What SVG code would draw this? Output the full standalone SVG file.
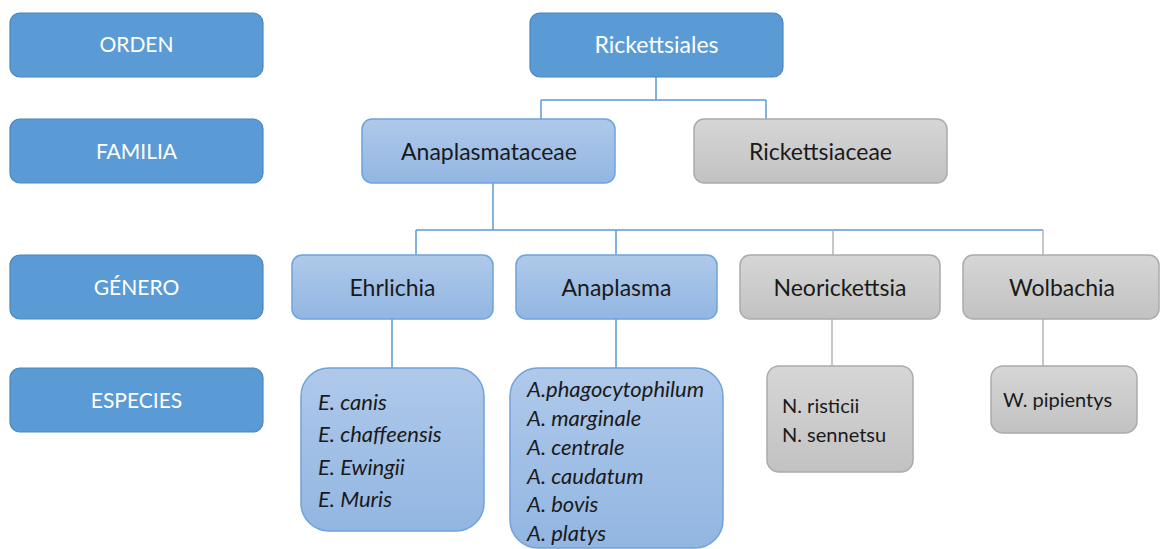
<svg xmlns="http://www.w3.org/2000/svg" width="1160" height="549" viewBox="0 0 1160 549">
<defs>
<linearGradient id="gBlue" x1="0" y1="0" x2="0" y2="1">
<stop offset="0" stop-color="#AFC9EA"/>
<stop offset="1" stop-color="#92B6E2"/>
</linearGradient>
<linearGradient id="gGray" x1="0" y1="0" x2="0" y2="1">
<stop offset="0" stop-color="#D6D6D6"/>
<stop offset="1" stop-color="#C2C2C2"/>
</linearGradient>
<style>
.dark{fill:#5B9BD5;stroke:#4D85BC;stroke-width:1.2}
.light{fill:url(#gBlue);stroke:#6FA3DA;stroke-width:1.5}
.gray{fill:url(#gGray);stroke:#ABABAB;stroke-width:1.5}
.wt{font-family:Lato,"Liberation Sans",sans-serif;font-size:21px;fill:#FFFFFF;text-anchor:middle}
.bt{font-family:Lato,"Liberation Sans",sans-serif;font-size:23px;fill:#1A1A1A;text-anchor:middle}
.it{font-family:Lato,"Liberation Sans",sans-serif;font-size:22px;font-style:italic;fill:#1A1A1A}
.sm{font-family:Lato,"Liberation Sans",sans-serif;font-size:20px;fill:#1A1A1A}
.cb{fill:none;stroke:#5B9BD5;stroke-width:1.5}
.cg{fill:none;stroke:#B5B5B5;stroke-width:1.5}
</style>
</defs>
<g id="connectors">
<path class="cb" d="M656 77 V100 M541 100 H766 M541 100 V120 M766 100 V120"/>
<path class="cb" d="M493 183 V230 M416 230 H1043 M416 230 V256 M616 230 V256"/>
<path class="cg" d="M833 230 V256 M1043 230 V256"/>
<path class="cb" d="M392 319 V368 M616 319 V368"/>
<path class="cg" d="M832 319 V367 M1043 319 V367"/>
</g>
<g id="orden"><rect class="dark" x="10" y="13" width="253" height="64" rx="10"/><text class="wt" x="136.5" y="52">ORDEN</text></g>
<g id="familia"><rect class="dark" x="10" y="119" width="253" height="64" rx="10"/><text class="wt" x="136.5" y="159">FAMILIA</text></g>
<g id="genero"><rect class="dark" x="10" y="255" width="253" height="64" rx="10"/><text class="wt" x="136.5" y="295">GÉNERO</text></g>
<g id="especies"><rect class="dark" x="10" y="368" width="253" height="64" rx="10"/><text class="wt" x="136.5" y="408">ESPECIES</text></g>
<g id="rickettsiales"><rect class="dark" x="530" y="13" width="253" height="64" rx="10"/><text class="wt" x="656.5" y="53" style="font-size:23px">Rickettsiales</text></g>
<g id="anaplasmataceae"><rect class="light" x="362" y="119" width="253" height="64" rx="10"/><text class="bt" x="489" y="160">Anaplasmataceae</text></g>
<g id="rickettsiaceae"><rect class="gray" x="694" y="119" width="253" height="64" rx="10"/><text class="bt" x="820.5" y="160">Rickettsiaceae</text></g>
<g id="ehrlichia"><rect class="light" x="292" y="255" width="201" height="64" rx="10"/><text class="bt" x="392.5" y="296">Ehrlichia</text></g>
<g id="anaplasma"><rect class="light" x="516" y="255" width="201" height="64" rx="10"/><text class="bt" x="616.5" y="296">Anaplasma</text></g>
<g id="neorickettsia"><rect class="gray" x="740" y="255" width="200" height="64" rx="10"/><text class="bt" x="840" y="296">Neorickettsia</text></g>
<g id="wolbachia"><rect class="gray" x="963" y="255" width="196" height="64" rx="10"/><text class="bt" x="1062" y="296">Wolbachia</text></g>
<g id="sp-ehrlichia"><rect class="light" x="301" y="368" width="183" height="163" rx="28"/>
<text class="it" x="318" y="410">E. canis</text>
<text class="it" x="318" y="442">E. chaffeensis</text>
<text class="it" x="318" y="475">E. Ewingii</text>
<text class="it" x="318" y="507">E. Muris</text></g>
<g id="sp-anaplasma"><rect class="light" x="510" y="368" width="213" height="180" rx="28"/>
<text class="it" x="527" y="397">A.phagocytophilum</text>
<text class="it" x="527" y="426">A. marginale</text>
<text class="it" x="527" y="455">A. centrale</text>
<text class="it" x="527" y="484">A. caudatum</text>
<text class="it" x="527" y="512">A. bovis</text>
<text class="it" x="527" y="541">A. platys</text></g>
<g id="sp-neorickettsia"><rect class="gray" x="767" y="366" width="146" height="106" rx="12"/>
<text class="sm" x="782" y="413">N. risticii</text>
<text class="sm" x="782" y="442">N. sennetsu</text></g>
<g id="sp-wolbachia"><rect class="gray" x="991" y="366" width="146" height="67" rx="12"/>
<text class="sm" x="1003" y="407">W. pipientys</text></g>
</svg>
